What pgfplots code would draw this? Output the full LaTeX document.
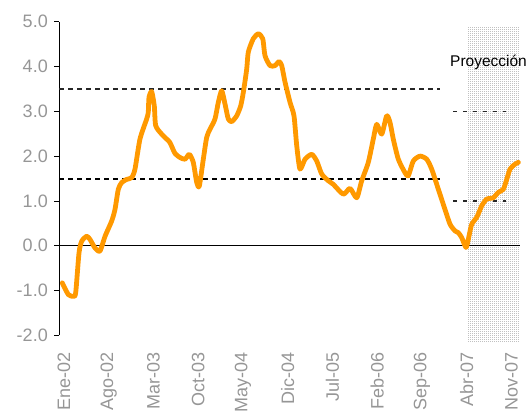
\documentclass[border=0pt]{standalone}
\usepackage{fontspec}
\setmainfont{Liberation Sans}
\usepackage{pgfplots}
\pgfplotsset{compat=1.18}
\usetikzlibrary{patterns}
\pgfdeclarepatternformonly{finedots}{\pgfqpoint{-0.5pt}{-0.5pt}}{\pgfqpoint{0.5pt}{0.5pt}}{\pgfqpoint{2pt}{2pt}}{%
  \pgfpathrectangle{\pgfqpoint{-0.45pt}{-0.45pt}}{\pgfqpoint{0.9pt}{0.9pt}}\pgfusepath{fill}}
\definecolor{lineorange}{RGB}{255,153,0}
\definecolor{labgray}{RGB}{150,150,150}
\begin{document}
\begin{tikzpicture}
\path[use as bounding box] (-59.3pt,-77.7pt) rectangle (469.7pt,335.3pt);
\begin{axis}[
  at={(0,0)}, anchor=south west,
  scale only axis, width=460.7pt, height=313.6pt,
  xmin=-0.735, xmax=71.36, ymin=-2, ymax=5,
  clip=false,
  axis x line*=bottom, axis y line*=left,
  x axis line style={draw=none},
  y axis line style={black, line width=0.8pt},
  xtick={0,7,...,70},
  xticklabels={Ene-02,Ago-02,Mar-03,Oct-03,May-04,Dic-04,Jul-05,Feb-06,Sep-06,Abr-07,Nov-07},
  x tick style={draw=none},
  ytick={-2,-1,...,5},
  y tick style={black, line width=0.8pt},
  tick align=outside, major tick length=5pt,
  /pgf/number format/assume math mode=true,
  y tick label style={/pgf/number format/fixed, /pgf/number format/fixed zerofill, /pgf/number format/precision=1},
  tick label style={font=\fontsize{18}{20}\selectfont, text=labgray},
  x tick label style={rotate=90, anchor=east},
  xticklabel shift=9pt,
  yticklabel shift=3pt,
]
% projection shading
\addplot[draw=none, pattern=finedots, pattern color=gray!75] coordinates {(63,-2.14) (71.2,-2.14) (71.2,4.88) (63,4.88)} -- cycle;
% zero line
\addplot[black, line width=0.8pt] coordinates {(-0.735,0) (71.36,0)};
% band lines
\addplot[black!85, line width=2pt, dash pattern=on 5pt off 4pt] coordinates {(-0.735,3.5) (58.8,3.5)};
\addplot[black, line width=2pt, dash pattern=on 5pt off 4pt] coordinates {(-0.735,1.5) (58.8,1.5)};
\addplot[black!85, line width=1.6pt, dash pattern=on 4pt off 6pt] coordinates {(60.9,3.0) (69.2,3.0)};
\addplot[black!85, line width=1.6pt, dash pattern=on 4pt off 6pt] coordinates {(60.9,1.0) (69.2,1.0)};
% series
\addplot[lineorange, line width=4.8pt, line join=round, line cap=round, smooth, tension=0.4] coordinates {
(-0.27,-0.83) (0.67,-1.09) (1.46,-1.13) (1.83,-1.05) (2.35,-0.16) (2.77,0.10)
(3.55,0.21) (4.07,0.14) (4.85,-0.05) (5.63,-0.12) (6.42,0.21) (7.46,0.55)
(7.98,0.81) (8.50,1.26) (9.03,1.41) (9.81,1.48) (10.59,1.52) (11.11,1.71)
(11.89,2.38) (12.94,2.83) (13.19,2.98) (13.30,3.31) (13.72,3.44) (14.13,3.12)
(14.35,2.68) (15.29,2.49) (16.07,2.38) (16.59,2.30) (17.37,2.06) (18.15,1.97)
(18.94,1.93) (19.61,2.04) (20.23,1.86) (20.77,1.41) (21.17,1.33) (21.80,1.93)
(22.33,2.42) (22.85,2.60) (23.63,2.83) (24.15,3.20) (24.68,3.46) (25.20,3.16)
(25.71,2.83) (26.24,2.77) (27.03,2.90) (27.65,3.12) (28.06,3.42) (28.59,3.94)
(28.84,4.32) (29.62,4.62) (30.41,4.73) (31.10,4.62) (31.46,4.24) (32.24,4.02)
(33.02,4.02) (33.65,4.11) (34.07,4.02) (34.59,3.65) (35.37,3.20) (35.99,2.90)
(36.42,2.23) (36.93,1.71) (37.72,1.93) (38.76,2.04) (39.55,1.89) (40.33,1.60)
(41.36,1.45) (42.14,1.37) (43.71,1.15) (44.76,1.28) (45.81,1.07) (46.59,1.45)
(47.62,1.86) (48.40,2.38) (48.94,2.71) (49.72,2.49) (50.50,2.90) (51.02,2.75)
(51.53,2.38) (52.32,1.93) (53.36,1.63) (53.88,1.56) (54.66,1.89) (55.71,2.00)
(56.76,1.93) (57.54,1.71) (58.58,1.26) (59.62,0.81) (60.41,0.48) (61.19,0.33)
(61.71,0.29) (62.24,0.18) (62.91,-0.04) (63.27,0.14) (63.80,0.48) (64.58,0.63)
(65.37,0.89) (66.15,1.04) (67.18,1.07) (67.96,1.19) (68.75,1.26) (69.28,1.48)
(69.80,1.71) (70.58,1.82) (71.10,1.86)
};
\node[anchor=west, inner sep=0pt, font=\fontsize{15.5}{17}\selectfont, text=black] at (axis cs:60.4,4.10) {Proyección};
\end{axis}
\end{tikzpicture}
\end{document}
